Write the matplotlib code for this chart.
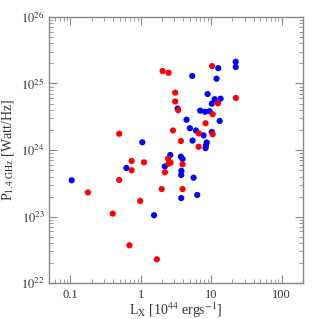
import matplotlib
matplotlib.use('Agg')
import matplotlib.pyplot as plt
from matplotlib.ticker import LogLocator, FixedLocator, NullFormatter

# Red sample: L_X [1e44 erg/s], P_1.4GHz [W/Hz]
redLx = [2.04, 2.48, 10.3, 3.08, 3.08, 3.39, 12.5, 10.5, 22.4, 8.32,
         2.86, 6.69, 10.5, 0.493, 3.71, 6.64, 0.74, 1.11, 0.74, 2.44,
         2.65, 2.47, 3.92, 2.20, 0.493, 0.177, 1.98, 3.92, 0.98, 0.399,
         0.689, 1.69]
redP = [1.54e25, 1.45e25, 1.83e25, 7.28e24, 5.37e24, 3.97e24, 5.04e24, 3.46e24, 6.06e24, 2.53e24,
        1.97e24, 1.78e24, 1.73e24, 1.76e24, 1.37e24, 1.12e24, 6.86e23, 6.56e23, 4.97e23, 7.43e23,
        6.47e23, 6.23e23, 6.12e23, 4.64e23, 3.56e23, 2.31e23, 2.60e23, 2.60e23, 1.72e23, 1.11e23,
        3.72e22, 2.29e22]

# Blue sample
blueLx = [22.3, 22.3, 12.6, 5.37, 11.9, 8.89, 11.2, 13.6, 10.2, 3.33,
          6.98, 8.19, 9.49, 13.2, 4.47, 4.98, 6.06, 7.80, 10.2, 5.44,
          8.63, 8.41, 8.32, 1.05, 2.62, 3.71, 3.92, 0.624, 2.19, 3.77,
          3.75, 0.104, 5.62, 6.33, 3.75, 1.54]
blueP = [2.12e25, 1.77e25, 1.70e25, 1.30e25, 1.18e25, 6.95e24, 5.81e24, 5.91e24, 4.97e24, 4.21e24,
         3.91e24, 3.76e24, 3.84e24, 2.74e24, 2.86e24, 2.13e24, 1.97e24, 1.66e24, 1.87e24, 1.39e24,
         1.30e24, 1.17e24, 1.07e24, 1.31e24, 8.44e23, 7.96e23, 7.35e23, 5.39e23, 5.67e23, 4.89e23,
         4.23e23, 3.52e23, 3.85e23, 2.12e23, 1.90e23, 1.05e23]

xticks = [0.1, 1, 10, 100]
xticklabels = ['0.1', '1', '10', '100']
yticks = [1e22, 1e23, 1e24, 1e25, 1e26]
yticklabels = [r'$10^{22}$', r'$10^{23}$', r'$10^{24}$', r'$10^{25}$', r'$10^{26}$']

plt.rcParams['font.family'] = 'Liberation Serif'
plt.rcParams['mathtext.fontset'] = 'stix'

textcol = '#333333'
axcol = '#888888'

fig = plt.figure(figsize=(3.19, 3.19), dpi=100)
ax = fig.add_axes([0.1545, 0.112, 0.7945, 0.835])

ax.scatter(blueLx, blueP, s=20, color='#0000ff', edgecolors='none', zorder=2)
ax.scatter(redLx, redP, s=20, color='#ff0000', edgecolors='none', zorder=3)

ax.set_xscale('log')
ax.set_yscale('log')
ax.set_xlim(0.05, 200)
ax.set_ylim(1e22, 1e26)

ax.xaxis.set_major_locator(FixedLocator(xticks))
ax.set_xticklabels(xticklabels)
ax.yaxis.set_major_locator(FixedLocator(yticks))
ax.set_yticklabels(yticklabels)
ax.xaxis.set_minor_locator(LogLocator(base=10, subs=range(2, 10), numticks=20))
ax.yaxis.set_minor_locator(LogLocator(base=10, subs=range(2, 10), numticks=20))
ax.xaxis.set_minor_formatter(NullFormatter())
ax.yaxis.set_minor_formatter(NullFormatter())

ax.tick_params(which='both', direction='in', top=True, right=True,
               color=axcol, labelcolor=textcol, labelsize=9)
ax.tick_params(which='major', length=6, width=0.8)
ax.tick_params(which='minor', length=3, width=0.6)
ax.tick_params(axis='x', pad=4)

for sp in ax.spines.values():
    sp.set_color(axcol)
    sp.set_linewidth(1.0)

ax.set_xlabel(r'L$_{\rm X}$ [10$^{44}$ ergs$^{-1}$]', fontsize=10, color=textcol, labelpad=0)
ax.set_ylabel(r'P$_{\rm 1.4\ GHz}$ [Watt/Hz]', fontsize=10, color=textcol, labelpad=4)

plt.savefig('out.png', dpi=100)
